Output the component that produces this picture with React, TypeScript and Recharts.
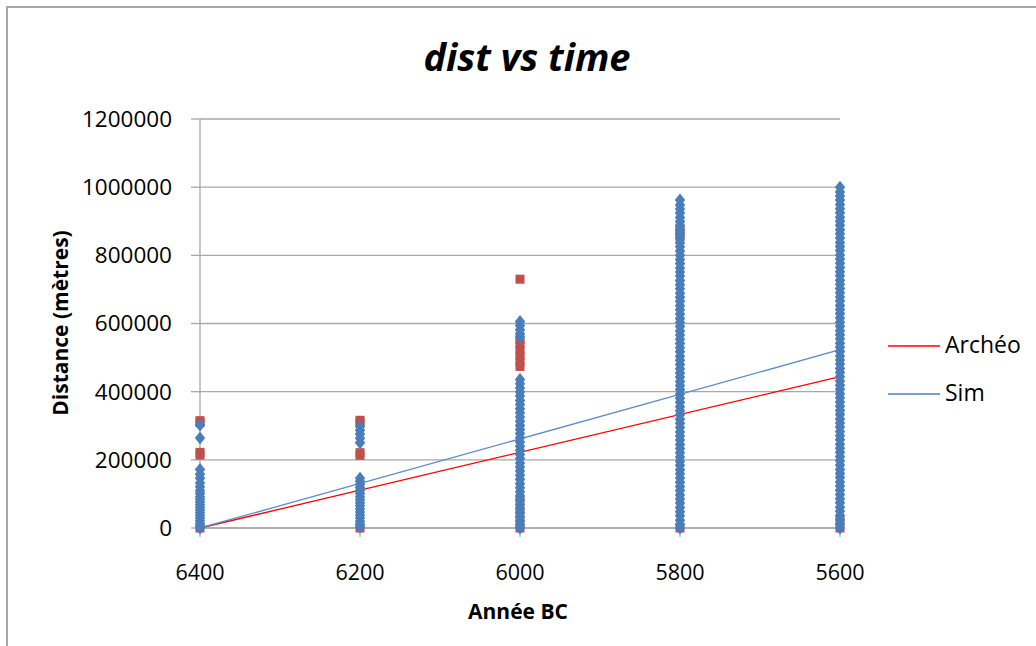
import { ScatterChart, Scatter, XAxis, YAxis, CartesianGrid } from "recharts";

// x categories (années BC), axis runs from 6400 down to 5600
const years = [6400, 6200, 6000, 5800, 5600];
const distTicks = [0, 200000, 400000, 600000, 800000, 1000000, 1200000];

// Archéo distances read per year column
const archeo6400 = [315000, 309000, 222000, 214000, 0];
const archeo6200 = [316000, 310000, 221000, 213000, 0];
const archeo6000 = [730000, 553000, 538000, 521000, 505000, 489000, 474000, 85000, 52000, 24000, 0];
const archeo5800 = [880000, 867000, 854000, 0];
const archeo5600 = [22000, 0];

// Sim distances read per year column
const sim6400 = [
  302000, 264000, 172000, 158000, 146000, 132000, 121000, 110000, 101000, 92000, 84000, 76000,
  68000, 60000, 52000, 45000, 37000, 29000, 21000, 13000, 6000, 0,
];
const sim6200 = [
  298000, 287000, 276000, 263000, 250000, 146000, 137000, 128000, 119000, 110000, 101000, 92000,
  83000, 74000, 65000, 56000, 47000, 38000, 29000, 20000, 11000, 3000,
];
const sim6000 = [
  606000, 594000, 582000, 570000, 560000, 436000, 423000, 411000, 399000, 387000, 374000, 362000,
  350000, 338000, 326000, 313000, 301000, 289000, 277000, 265000, 252000, 240000, 228000, 216000,
  204000, 191000, 179000, 167000, 155000, 143000, 130000, 118000, 106000, 94000, 82000, 69000,
  57000, 45000, 33000, 21000, 8000, 0,
];
const sim5800 = [
  0, 11000, 23000, 36000, 48000, 60000, 73000, 85000, 97000, 110000, 122000, 134000, 147000,
  159000, 171000, 184000, 196000, 208000, 221000, 233000, 245000, 258000, 270000, 282000, 295000,
  307000, 319000, 332000, 344000, 356000, 369000, 381000, 393000, 406000, 418000, 430000, 443000,
  455000, 467000, 480000, 492000, 504000, 517000, 529000, 541000, 554000, 566000, 578000, 591000,
  603000, 615000, 628000, 640000, 652000, 665000, 677000, 689000, 702000, 714000, 726000, 739000,
  751000, 763000, 776000, 788000, 800000, 813000, 825000, 837000, 850000, 862000, 874000, 887000,
  899000, 911000, 924000, 936000, 948000, 962000,
];
const sim5600 = [
  0, 12000, 24000, 37000, 49000, 61000, 74000, 86000, 98000, 111000, 123000, 135000, 148000,
  160000, 172000, 185000, 197000, 209000, 222000, 234000, 246000, 259000, 271000, 283000, 296000,
  308000, 320000, 333000, 345000, 357000, 370000, 382000, 394000, 407000, 419000, 431000, 444000,
  456000, 468000, 481000, 493000, 505000, 518000, 530000, 542000, 555000, 567000, 579000, 592000,
  604000, 616000, 629000, 641000, 653000, 666000, 678000, 690000, 703000, 715000, 727000, 740000,
  752000, 764000, 777000, 789000, 801000, 814000, 826000, 838000, 851000, 863000, 875000, 888000,
  900000, 912000, 925000, 937000, 949000, 962000, 974000, 986000, 1000000,
];

// linear trend lines, values at 6400 and 5600
const trendYears = [6400, 5600];
const archeoTrend = [0, 444000];
const simTrend = [0, 523000];

const toPoints = (groups: number[][]) =>
  groups.flatMap((vals, i) => vals.map((y) => ({ x: years[i], y })));

const archeoPoints = toPoints([archeo6400, archeo6200, archeo6000, archeo5800, archeo5600]);
const simPoints = toPoints([sim6400, sim6200, sim6000, sim5800, sim5600]);
const archeoLine = trendYears.map((x, i) => ({ x, y: archeoTrend[i] }));
const simLine = trendYears.map((x, i) => ({ x, y: simTrend[i] }));

const FONT = "'Open Sans', 'Liberation Sans', sans-serif";
const GRID = "#A8A8A8";

const Square = (props: any) => {
  const { cx, cy } = props;
  return <rect x={cx - 4.5} y={cy - 4.5} width={9} height={9} fill="#C0504D" />;
};

const Diamond = (props: any) => {
  const { cx, cy } = props;
  return (
    <polygon
      points={`${cx},${cy - 6.5} ${cx + 5.2},${cy} ${cx},${cy + 6.5} ${cx - 5.2},${cy}`}
      fill="#4A7EBB"
    />
  );
};

const NoDot = () => <g />;

export default function App() {
  return (
    <div
      style={{
        position: "absolute",
        left: 0,
        top: 0,
        width: 1036,
        height: 646,
        overflow: "hidden",
        background: "#fff",
      }}
    >
      <div
        style={{
          position: "absolute",
          left: 6,
          top: 6,
          width: 1100,
          height: 700,
          borderTop: "2px solid #A6A6A6",
          borderLeft: "2px solid #A6A6A6",
        }}
      />
      <ScatterChart
        width={1036}
        height={646}
        margin={{ top: 119, right: 196, bottom: 58, left: 100 }}
        style={{ position: "absolute", left: 0, top: 0 }}
      >
        <CartesianGrid vertical={false} stroke={GRID} strokeWidth={1.3} />
        <XAxis
          type="number"
          dataKey="x"
          domain={[5600, 6400]}
          ticks={years}
          reversed
          height={60}
          tickSize={9}
          tickMargin={28}
          axisLine={{ stroke: GRID, strokeWidth: 1.3 }}
          tickLine={{ stroke: GRID, strokeWidth: 1.3 }}
          tick={{ fill: "#000", fontSize: 21.5, fontFamily: FONT }}
        />
        <YAxis
          type="number"
          dataKey="y"
          domain={[0, 1200000]}
          ticks={distTicks}
          width={100}
          tickSize={9}
          tickMargin={19}
          axisLine={{ stroke: GRID, strokeWidth: 1.3 }}
          tickLine={{ stroke: GRID, strokeWidth: 1.3 }}
          tick={{ fill: "#000", fontSize: 22.5, fontFamily: FONT }}
        />
        <Scatter
          name="Archéo"
          data={archeoLine}
          line={{ stroke: "#FF0000", strokeWidth: 1.3 }}
          shape={NoDot}
          isAnimationActive={false}
        />
        <Scatter
          name="Sim"
          data={simLine}
          line={{ stroke: "#5B8BC9", strokeWidth: 1.3 }}
          shape={NoDot}
          isAnimationActive={false}
        />
        <Scatter name="Archéo points" data={archeoPoints} shape={Square} isAnimationActive={false} />
        <Scatter name="Sim points" data={simPoints} shape={Diamond} isAnimationActive={false} />
      </ScatterChart>
      <svg
        width={1036}
        height={646}
        style={{ position: "absolute", left: 0, top: 0, pointerEvents: "none" }}
        fontFamily={FONT}
      >
        <text x={527} y={71} textAnchor="middle" fontSize={38} fontWeight={700} fontStyle="italic">
          dist vs time
        </text>
        <text x={518} y={619} textAnchor="middle" fontSize={21} fontWeight={700}>
          Année BC
        </text>
        <text
          transform="translate(68,323) rotate(-90)"
          textAnchor="middle"
          fontSize={21}
          fontWeight={700}
        >
          Distance (mètres)
        </text>
        <line x1={888} y1={346} x2={940} y2={346} stroke="#FF0000" strokeWidth={1.3} />
        <text x={945} y={353} fontSize={23}>
          Archéo
        </text>
        <line x1={888} y1={394} x2={940} y2={394} stroke="#4F81BD" strokeWidth={1.3} />
        <text x={945} y={401} fontSize={23}>
          Sim
        </text>
      </svg>
    </div>
  );
}
